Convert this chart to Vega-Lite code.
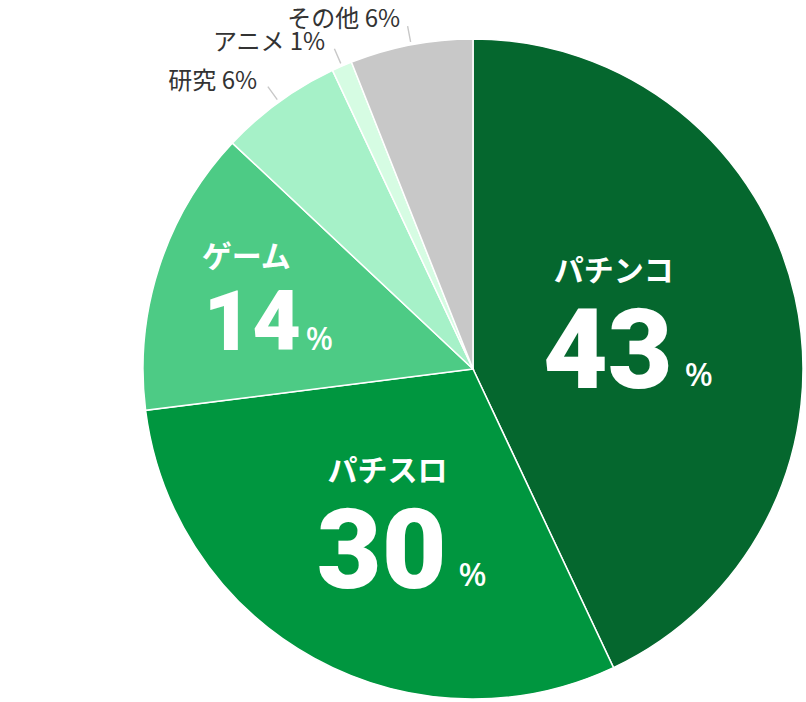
{
  "$schema": "https://vega.github.io/schema/vega-lite/v6.json",
  "description": "Share by category, pie with labels inside and call-outs for the small slices.",
  "width": 660,
  "height": 660,
  "autosize": {"type": "none"},
  "padding": {"left": 143, "top": 39, "right": 3, "bottom": 3},
  "background": "white",
  "view": {"stroke": null},
  "data": {
    "values": [
      {"category": "パチンコ", "share": 43, "rank": 1},
      {"category": "パチスロ", "share": 30, "rank": 2},
      {"category": "ゲーム", "share": 14, "rank": 3},
      {"category": "研究", "share": 6, "rank": 4},
      {"category": "アニメ", "share": 1, "rank": 5},
      {"category": "その他", "share": 6, "rank": 6}
    ]
  },
  "encoding": {
    "theta": {"field": "share", "type": "quantitative", "stack": true},
    "order": {"field": "rank", "type": "quantitative"}
  },
  "layer": [
    {
      "mark": {"type": "arc", "outerRadius": 330, "stroke": "white", "strokeWidth": 1.5},
      "encoding": {
        "color": {
          "field": "category",
          "type": "nominal",
          "scale": {
            "domain": ["パチンコ", "パチスロ", "ゲーム", "研究", "アニメ", "その他"],
            "range": ["#05672e", "#00963f", "#4dcb85", "#a6f1c8", "#d6fce3", "#c8c8c8"]
          },
          "legend": null
        }
      }
    },
    {
      "mark": {"type": "arc", "innerRadius": 333, "outerRadius": 349, "padAngle": 0.5, "fillOpacity": 0, "stroke": "#c8c8c8", "strokeWidth": 1.4},
      "encoding": {
        "strokeOpacity": {"condition": {"test": "datum.share < 10", "value": 1}, "value": 0}
      }
    },
    {
      "mark": {"type": "text", "radius": 357, "dx": -6, "dy": 2, "align": "right", "baseline": "middle", "font": "Noto Sans CJK JP", "fontSize": 24, "color": "#333333",
        "text": {"expr": "datum.share < 10 ? datum.category + ' ' + datum.share + '%' : ''"}}
    },
    {
      "mark": {"type": "text", "align": "right", "baseline": "alphabetic", "dx": 68, "dy": -58, "font": "Noto Sans CJK JP", "fontWeight": "bold", "fontSize": 30, "color": "white",
        "text": {"expr": "datum.share >= 20 ? datum.category : ''"}},
      "encoding": {
        "radius": {"field": "share", "type": "quantitative", "scale": {"type": "linear", "domain": [14, 30, 43], "range": [181, 194, 136]}}
      }
    },
    {
      "mark": {"type": "text", "align": "right", "baseline": "alphabetic", "dx": 67, "dy": 49, "font": "Roboto", "fontWeight": 900, "fontSize": 112, "color": "white",
        "text": {"expr": "datum.share >= 20 ? datum.share : ''"}},
      "encoding": {
        "radius": {"field": "share", "type": "quantitative"}
      }
    },
    {
      "mark": {"type": "text", "align": "left", "baseline": "alphabetic", "dx": 79, "dy": 47, "font": "Noto Sans", "fontWeight": 500, "fontSize": 33, "color": "white",
        "text": {"expr": "datum.share >= 20 ? '%' : ''"}},
      "encoding": {
        "radius": {"field": "share", "type": "quantitative"}
      }
    },
    {
      "mark": {"type": "text", "align": "right", "baseline": "alphabetic", "dx": -10, "dy": -46, "font": "Noto Sans CJK JP", "fontWeight": "bold", "fontSize": 30, "color": "white",
        "text": {"expr": "datum.share >= 10 && datum.share < 20 ? datum.category : ''"}},
      "encoding": {
        "radius": {"field": "share", "type": "quantitative"}
      }
    },
    {
      "mark": {"type": "text", "align": "right", "baseline": "alphabetic", "dx": 0, "dy": 37, "font": "Roboto", "fontWeight": 900, "fontSize": 84, "color": "white",
        "text": {"expr": "datum.share >= 10 && datum.share < 20 ? datum.share : ''"}},
      "encoding": {
        "radius": {"field": "share", "type": "quantitative"}
      }
    },
    {
      "mark": {"type": "text", "align": "left", "baseline": "alphabetic", "dx": 5, "dy": 37, "font": "Noto Sans", "fontWeight": 500, "fontSize": 32, "color": "white",
        "text": {"expr": "datum.share >= 10 && datum.share < 20 ? '%' : ''"}},
      "encoding": {
        "radius": {"field": "share", "type": "quantitative"}
      }
    }
  ]
}
